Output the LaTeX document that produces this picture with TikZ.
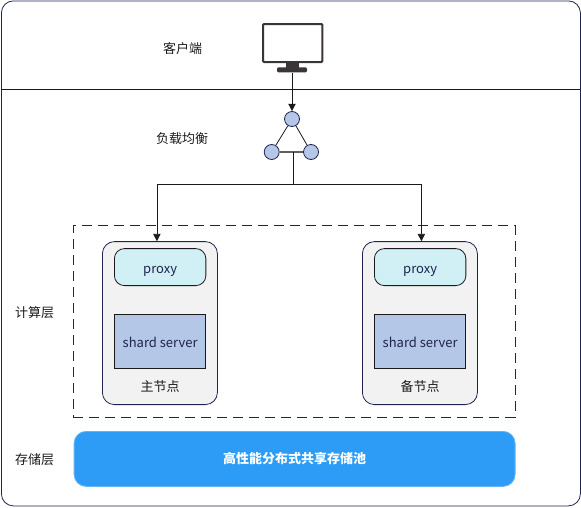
\documentclass[tikz,border=0pt]{standalone}
\usepackage{fontspec}
\setmainfont{Noto Sans CJK SC}
\usetikzlibrary{arrows.meta,calc}
\definecolor{navy}{HTML}{1F2350}
\definecolor{ink}{HTML}{1A1A1A}
\definecolor{cyanfill}{HTML}{D0F0F5}
\definecolor{bluefill}{HTML}{B4C7E7}
\definecolor{greyfill}{HTML}{F2F2F2}
\definecolor{poolblue}{HTML}{2C9CF6}
\definecolor{monitor}{HTML}{3B3536}
\tikzset{
  x=0.75pt,y=-0.75pt,
  label text/.style={font=\fontsize{9.75pt}{11pt}\selectfont,text=ink,inner sep=0},
  box/.style={draw,anchor=north west,inner sep=0,line width=0.6pt},
  nodebox/.style={box,draw=navy,fill=greyfill,rounded corners=9pt,minimum width=86.25pt,minimum height=122.25pt},
  proxybox/.style={box,draw=ink,fill=cyanfill,rounded corners=7.5pt,minimum width=68.6pt,minimum height=27.75pt,font=\fontsize{9.75pt}{11pt}\selectfont,text=navy,text height=9.8pt,text depth=0pt},
  shardbox/.style={box,draw=ink,fill=bluefill,minimum width=68.6pt,minimum height=40.5pt,font=\fontsize{9.75pt}{11pt}\selectfont,text=navy,text height=9.2pt,text depth=0pt},
  lb/.style={circle,draw=navy,fill=bluefill,minimum size=11.25pt,inner sep=0,line width=0.6pt},
  link/.style={draw=ink,line width=0.6pt},
  arrowlink/.style={link,-{Triangle[length=5.5pt,width=5.5pt]}},
}
\begin{document}
\begin{tikzpicture}
\useasboundingbox (0,0) rectangle (581,507);
\node[box,draw=navy,rounded corners=9pt,minimum width=434.25pt,minimum height=378.75pt] (outer) at (1,0.5) {};
\coordinate (sepL) at (1,89.5);
\coordinate (sepR) at (580,89.5);
\draw[link] (sepL) -- (sepR);
\node[box,draw=navy,dash pattern=on 7.5pt off 4.5pt,minimum width=331.2pt,minimum height=143.6pt] (dash) at (73,225.2) {};

% monitor
\node[box,draw=monitor,line width=1.6pt,fill=white,rounded corners=0.8pt,minimum width=44.5pt,minimum height=28.5pt] (screen) at (262,23) {};
\node[anchor=north,fill=monitor,inner sep=0,minimum width=9.75pt,minimum height=4pt] (neck) at (292.5,62) {};
\node[anchor=north,fill=monitor,inner sep=0,rounded corners=1pt,minimum width=22.5pt,minimum height=3.9pt] (base) at (292,67) {};

% load balancer
\node[lb] (top) at (292,119) {};
\node[lb] (left) at (271.7,152) {};
\node[lb] (right) at (311,152) {};
\draw[link] (top) -- (left);
\draw[link] (top) -- (right);
\draw[link,line width=0.9pt,draw=ink!70] (left) -- (right);
\draw[arrowlink] (base.south -| top) -- (top.north);

% compute nodes
\node[nodebox] (n1) at (102,241.2) {};
\node[nodebox] (n2) at (362,241.2) {};
\node[proxybox] (p1) at (114,248.2) {proxy};
\node[proxybox] (p2) at (374,248.2) {proxy};
\node[shardbox] (s1) at (114,314.2) {shard server};
\node[shardbox] (s2) at (374,314.2) {shard server};
\node[label text] (m1) at (160,386.5) {主节点};
\node[label text] (m2) at (420,386.5) {备节点};

% fan-out
\coordinate (tri) at (293.5,152);
\coordinate (fan) at (293.5,184.5);
\coordinate (t1) at ($(n1.north)+(-3,0)$);
\coordinate (t2) at ($(n2.north)+(1.5,0)$);
\draw[link] (tri) -- (fan);
\draw[arrowlink] (fan) -| (t1);
\draw[arrowlink] (fan) -| (t2);

% storage
\node[box,draw=poolblue!75!white,fill=poolblue,rounded corners=9pt,minimum width=330.75pt,minimum height=41.25pt,font=\fontsize{9.75pt}{11pt}\selectfont\bfseries,text=white] (pool) at (73.7,431) {高性能分布式共享存储池};

% labels
\node[label text] (l1) at (182.5,48.5) {客户端};
\node[label text] (l2) at (182,138.5) {负载均衡};
\node[label text] (l3) at (34.5,312.5) {计算层};
\node[label text] (l4) at (34.5,459.5) {存储层};
\end{tikzpicture}
\end{document}
